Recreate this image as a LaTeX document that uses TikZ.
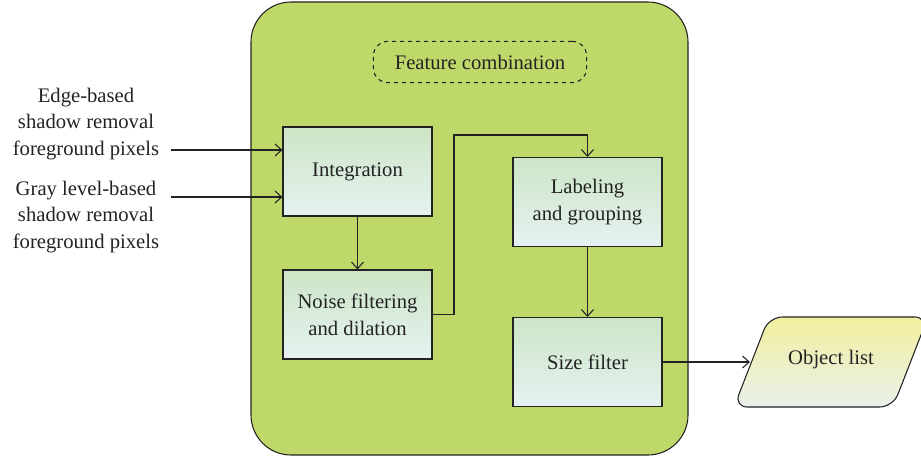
\documentclass[tikz,border=0pt]{standalone}
\usepackage{fontspec}
\setmainfont{Liberation Serif}
\usetikzlibrary{arrows.meta}

\definecolor{leaf}{RGB}{191,216,106}
\definecolor{boxtop}{RGB}{205,229,198}
\definecolor{boxbot}{RGB}{229,242,241}
\definecolor{outtop}{RGB}{242,239,158}
\definecolor{outbot}{RGB}{232,240,235}
\definecolor{ink}{RGB}{35,35,35}

\tikzset{
  stage/.style={draw=ink,line width=0.8pt,top color=boxtop,bottom color=boxbot,
    minimum width=111.75pt,minimum height=66.75pt,align=center,text=ink},
  link/.style={->,draw=ink,line width=0.8pt},
}

\begin{document}
\begin{tikzpicture}[x=0.75pt,y=-0.75pt,font=\fontsize{15.5}{20}\selectfont,
        >={Straight Barb[length=5pt,width=9pt]}]
        \useasboundingbox (0,0) rectangle (921,460);
        \draw[ink,line width=0.8pt,fill=leaf,rounded corners=30pt](251,2) rectangle (688,455);

        \node[draw=ink,dashed,line width=0.8pt,rounded corners=11pt,minimum width=160pt,minimum height=31pt,text=ink](combi) at (480,62){Feature combination};

        \node[stage](integ) at (357.5,171.5){Integration};
        \node[stage](noise) at (357.5,314.5){Noise filtering\\and dilation};
        \node[stage](label) at (587.5,202){Labeling\\and grouping};
        \node[stage](size) at (587.5,362){Size filter};

        % output parallelogram
        \draw[ink,line width=0.8pt,rounded corners=10pt,top color=outtop,bottom color=outbot]
          (734,407)--(769,317)--(928,317)--(893,407)--cycle;
        \node[text=ink](objs) at (831,360){Object list};
        \coordinate(objin) at (750,362);

        \node[align=center,text=ink](edge) at (86,124){Edge-based\\shadow removal\\foreground pixels};
        \node[align=center,text=ink](gray) at (86,217){Gray level-based\\shadow removal\\foreground pixels};
        \coordinate(in1) at (171,150);
        \coordinate(in2) at (171,197);

        \draw[link](in1)--(in1 -| integ.west);
        \draw[link](in2)--(in2 -| integ.west);
        \draw[link](integ)--(noise);
        \draw[link](noise.east)-|(454,135)-|(label.north);
        \draw[link](label)--(size);
        \draw[link](size.east |- objin)--(objin);
    \end{tikzpicture}
\end{document}
